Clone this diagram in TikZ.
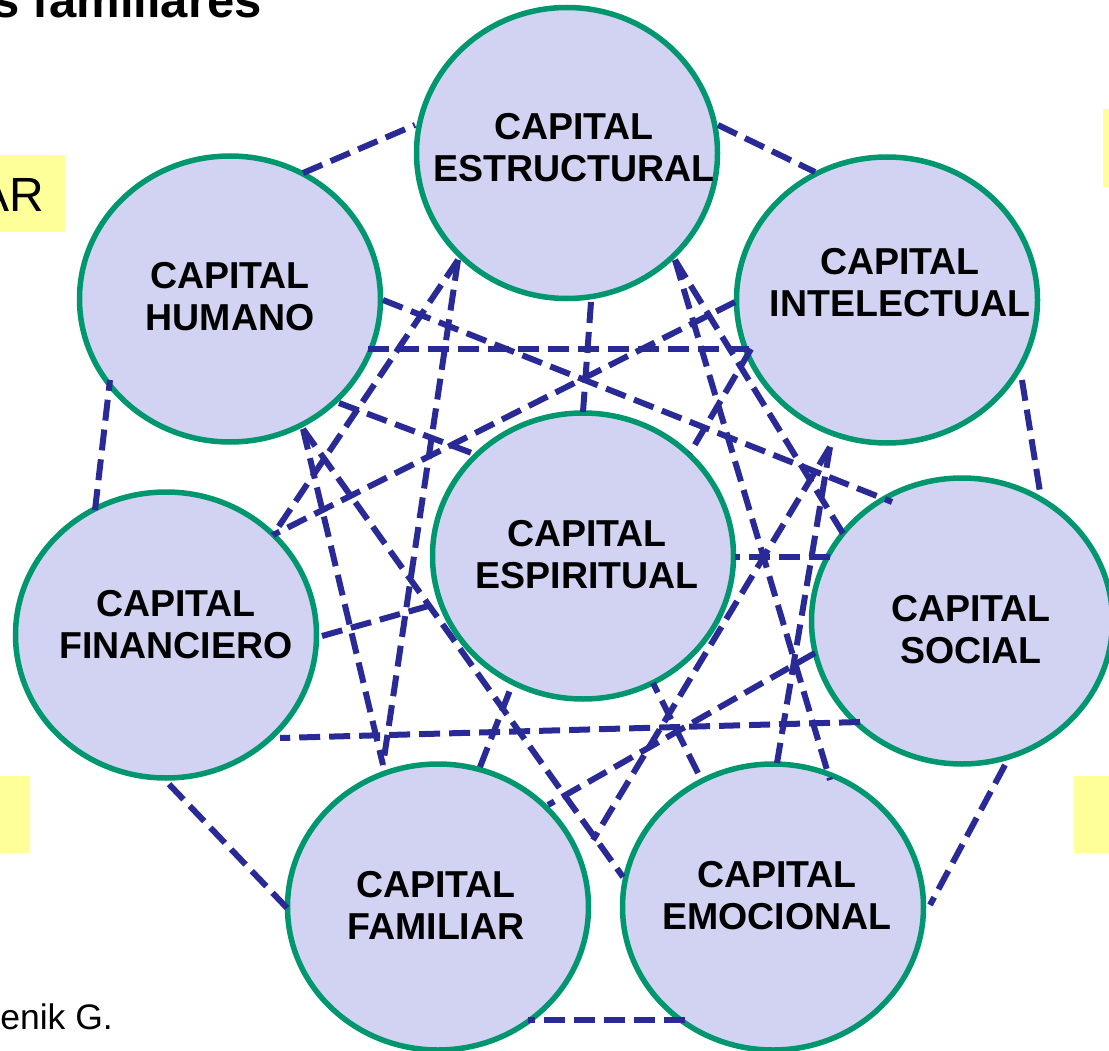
\documentclass[tikz,border=0pt]{standalone}
\usepackage{fontspec}
\setmainfont{Liberation Sans}
\usetikzlibrary{shapes.geometric,calc}
\definecolor{capfill}{RGB}{210,210,242}
\definecolor{capedge}{RGB}{0,150,110}
\definecolor{linkcol}{RGB}{42,42,150}
\definecolor{notecol}{RGB}{255,255,153}
\begin{document}
\begin{tikzpicture}[x=1pt,y=-1pt,
  capnode/.style={ellipse, draw=capedge, fill=capfill, line width=5.5pt,
    minimum width=301pt, minimum height=286pt, inner sep=0pt},
  caplabel/.style={align=center, font=\bfseries\fontsize{37.5}{42}\selectfont, inner sep=0pt},
  link/.style={draw=linkcol, line width=6pt, dash pattern=on 21pt off 9pt},
  plaintext/.style={anchor=base east, inner sep=0pt}]
\useasboundingbox (0,0) rectangle (1109,1051);
% yellow side boxes
\fill[notecol] (0,155) rectangle (65,232);
\fill[notecol] (1103,109) rectangle (1109,187);
\fill[notecol] (0,776) rectangle (30,853);
\fill[notecol] (1074,776) rectangle (1109,853);
% texts
\node[plaintext, font=\bfseries\fontsize{49}{50}\selectfont] (title) at (262,18) {s familiares};
\node[plaintext, font=\fontsize{48}{50}\selectfont] (ar) at (44.5,212) {AR};
\node[plaintext, font=\fontsize{35.5}{36}\selectfont] (src) at (113,1029) {enik G.};
% circles
\node[capnode, minimum height=291pt] (est) at (567,153) {};
\node[capnode] (hum) at (230,299) {};
\node[capnode] (int) at (887,300) {};
\node[capnode] (fin) at (166,635) {};
\node[capnode] (esp) at (583,556) {};
\node[capnode] (soc) at (962,621) {};
\node[capnode] (fam) at (438,907) {};
\node[capnode] (emo) at (773,907) {};
% labels
\node[caplabel] (estL) at (574,148) {CAPITAL\\ESTRUCTURAL};
\node[caplabel] (humL) at (230,297) {CAPITAL\\HUMANO};
\node[caplabel] (intL) at (900,283) {CAPITAL\\INTELECTUAL};
\node[caplabel] (finL) at (176,625) {CAPITAL\\FINANCIERO};
\node[caplabel] (espL) at (587,555) {CAPITAL\\ESPIRITUAL};
\node[caplabel] (socL) at (971,630) {CAPITAL\\SOCIAL};
\node[caplabel] (famL) at (436,905) {CAPITAL\\FAMILIAR};
\node[caplabel] (emoL) at (777,896) {CAPITAL\\EMOCIONAL};
% outer ring
\draw[link] ($(hum)+(73,-126)$) -- ($(est)+(-152,-28)$);
\draw[link] ($(est)+(151,-28)$) -- ($(int)+(-72,-128)$);
\draw[link] ($(int)+(135,80)$) -- ($(soc)+(78,-129)$);
\draw[link] ($(soc)+(43,144)$) -- ($(emo)+(157,-2)$);
\draw[link] ($(emo)+(-88,113)$) -- ($(fam)+(90,113)$);
\draw[link] ($(fam)+(-151,1)$) -- ($(fin)+(-1,145)$);
\draw[link] ($(fin)+(-71,-125)$) -- ($(hum)+(-120,81)$);
% spokes to the centre
\draw[link] ($(est)+(24,149)$) -- ($(esp)+(0,-144)$);
\draw[link] ($(hum)+(109,104)$) -- ($(esp)+(-106,-101)$);
\draw[link] ($(int)+(-136,49)$) -- ($(esp)+(107,-103)$);
\draw[link] ($(fin)+(156,1)$) -- ($(esp)+(-151,49)$);
\draw[link] ($(soc)+(-132,-64)$) -- ($(esp)+(152,1)$);
\draw[link] ($(fam)+(42,-140)$) -- ($(esp)+(-71,129)$);
\draw[link] ($(emo)+(-75,-134)$) -- ($(esp)+(70,127)$);
% diagonals
\draw[link] ($(est)+(108,107)$) -- ($(soc)+(-115,-81)$);
\draw[link] ($(int)+(-57,147)$) -- ($(emo)+(4,-144)$);
\draw[link] ($(soc)+(-147,32)$) -- ($(fam)+(110,-102)$);
\draw[link] ($(hum)+(73,130)$) -- ($(fam)+(-55,-142)$);
\draw[link] ($(est)+(-109,107)$) -- ($(fin)+(107,-100)$);
\draw[link] ($(hum)+(138,50)$) -- ($(int)+(-136,49)$);
\draw[link] ($(est)+(108,107)$) -- ($(emo)+(57,-127)$);
\draw[link] ($(int)+(-57,147)$) -- ($(fam)+(155,-67)$);
\draw[link] ($(soc)+(-102,101)$) -- ($(fin)+(114,103)$);
\draw[link] ($(hum)+(73,130)$) -- ($(emo)+(-150,-30)$);
\draw[link] ($(est)+(-109,107)$) -- ($(fam)+(-55,-142)$);
\draw[link] ($(int)+(-152,2)$) -- ($(fin)+(107,-100)$);
\draw[link] ($(hum)+(153,1)$) -- ($(soc)+(-70,-119)$);
\end{tikzpicture}
\end{document}
